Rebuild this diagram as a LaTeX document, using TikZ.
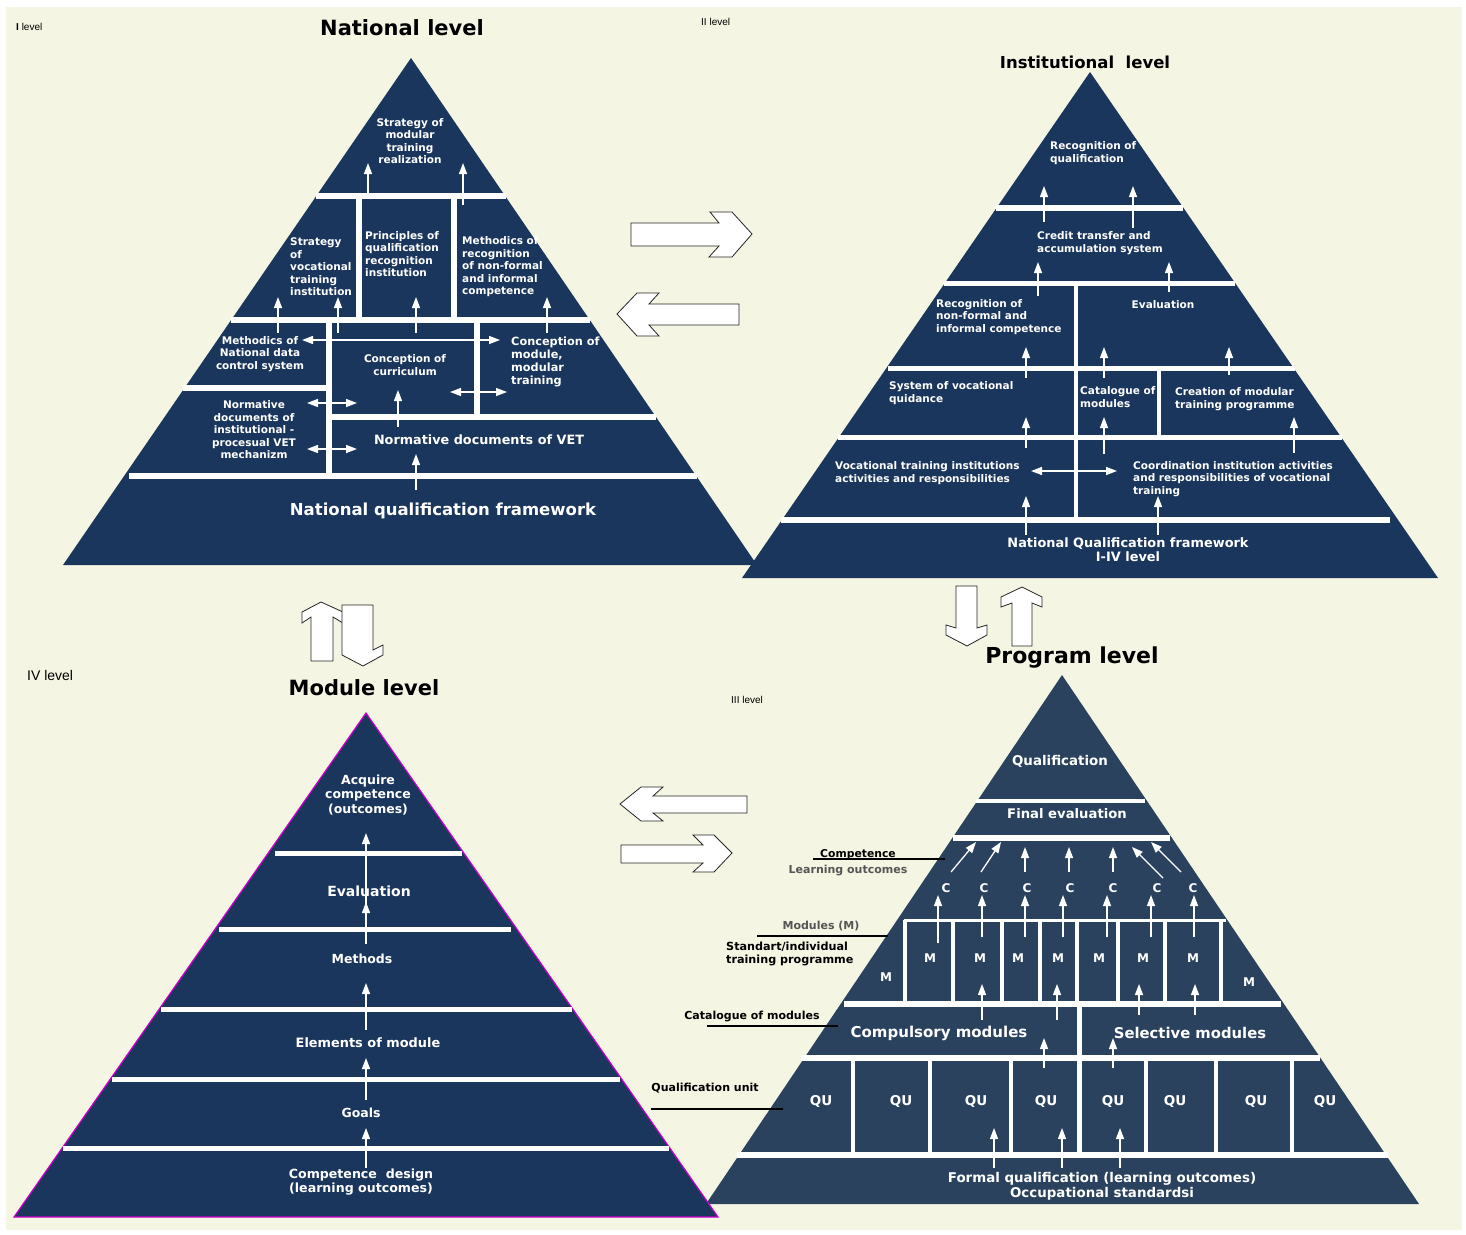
\documentclass[tikz,border=0pt]{standalone}
\usepackage{fontspec}
\setmainfont{DejaVu Sans}
\newfontfamily\lvl{Liberation Sans}
\usetikzlibrary{arrows.meta}
\definecolor{bgc}{HTML}{F5F5E4}
\definecolor{navy}{HTML}{1B365D}
\definecolor{progc}{HTML}{2B425F}
\definecolor{magc}{HTML}{CC00CC}
\definecolor{greyt}{HTML}{555555}
\newcommand\fz[2]{\fontsize{#1}{#2}\selectfont\bfseries}
\newcommand\wbar[4]{\fill[white] (#1,{#3-#4/2}) rectangle (#2,{#3+#4/2});}
\newcommand\wvbar[4]{\fill[white] ({#1-#4/2},#2) rectangle ({#1+#4/2},#3);}
\tikzset{
 wa/.style={white, line width=1.3pt, -{Triangle[width=8pt,length=11pt]}},
 wd/.style={white, line width=1.3pt, {Triangle[width=8pt,length=11pt]}-{Triangle[width=8pt,length=11pt]}},
 tc/.style={text=white, inner sep=0pt, align=center},
 tw/.style={text=white, inner sep=0pt, align=left, anchor=west},
 blk/.style={fill=white, draw=black!85, line width=0.8pt, line join=miter},
 lab/.style={inner sep=0pt, text=black},
 ttl/.style={inner sep=0pt, text=black, font=\fz{21}{24}},
 lvll/.style={inner sep=0pt, text=black, anchor=west},
 ldr/.style={black, line width=1.2pt},
}
\begin{document}
\begin{tikzpicture}[x=1pt,y=-1pt]
\fill[white] (0,0) rectangle (1466,1234);
\fill[bgc] (6,7) rectangle (1462,1230);
\useasboundingbox (0,0) rectangle (1466,1234);

% ---------------- National level ----------------
\fill[navy] (411,58) -- (757,565) -- (63,565) -- cycle;
\wbar{316}{506}{196}{6}
\wvbar{359}{196}{320}{6}
\wvbar{454}{196}{320}{6}
\wbar{231}{590}{320}{6}
\wvbar{329}{320}{476}{6}
\wvbar{477}{320}{417}{6}
\wbar{183}{329}{388}{6}
\wbar{329}{656}{417}{6}
\wbar{129}{697}{476}{6}

\draw[wa] (368,196) -- (368,163);
\draw[wa] (463,205) -- (463,163);
\draw[wa] (278,333) -- (278,297);
\draw[wa] (338,333) -- (338,297);
\draw[wa] (416,333) -- (416,297);
\draw[wa] (547,333) -- (547,297);
\draw[wd] (302,340) -- (500,340);
\draw[wd] (450,392) -- (507,392);
\draw[wd] (307,403) -- (357,403);
\draw[wd] (307,449) -- (357,449);
\draw[wa] (398,427) -- (398,390);
\draw[wa] (416,490) -- (416,454);

\node[tc, font=\fz{10.5}{12.6}] (n1) at (410,141) {Strategy of\\modular\\training\\realization};
\node[tw, font=\fz{10.5}{12.5}] (n2) at (290,267) {Strategy\\of\\vocational\\training\\institution};
\node[tw, font=\fz{10.5}{12.5}] (n3) at (365,254) {Principles of\\qualification\\recognition\\institution};
\node[tw, font=\fz{10.5}{12.5}] (n4) at (462,267) {Methodics of\\recognition\\of non-formal\\and informal\\competence};
\node[tc, font=\fz{10.5}{12.5}] (n5) at (260,354) {Methodics of\\National data\\control system};
\node[tc, font=\fz{10.5}{12.5}] (n6) at (405,365) {Conception of\\curriculum};
\node[tw, font=\fz{11.3}{13}] (n7) at (511,362) {Conception of\\module,\\modular\\training};
\node[tc, font=\fz{10.5}{12.5}] (n8) at (254,430) {Normative\\documents of\\institutional -\\procesual VET\\mechanizm};
\node[tc, font=\fz{12.8}{14}] (n9) at (479,440) {Normative documents of VET};
\node[tc, font=\fz{16.5}{18}] (n10) at (443,511) {National qualification framework};

% ---------------- Institutional level ----------------
\fill[navy] (1090,72) -- (1438,578) -- (742,578) -- cycle;
\wbar{996}{1183}{208}{6}
\wbar{944}{1235}{283}{5}
\wvbar{1076}{283}{520}{4}
\wbar{888}{1295}{368}{5}
\wvbar{1159}{368}{437}{4}
\wbar{838}{1342}{437}{5}
\wbar{781}{1390}{520}{6}

\draw[wa] (1044,222) -- (1044,186);
\draw[wa] (1133,228) -- (1133,186);
\draw[wa] (1038,296) -- (1038,262);
\draw[wa] (1169,292) -- (1169,262);
\draw[wa] (1026,378) -- (1026,347);
\draw[wa] (1104,378) -- (1104,347);
\draw[wa] (1229,375) -- (1229,347);
\draw[wa] (1026,448) -- (1026,417);
\draw[wa] (1104,454) -- (1104,417);
\draw[wa] (1294,453) -- (1294,417);
\draw[wa] (1026,535) -- (1026,496);
\draw[wa] (1158,535) -- (1158,496);
\draw[wd] (1031,471) -- (1117,471);

\node[tw, font=\fz{10.5}{12.3}] (i1) at (1050,153) {Recognition of\\qualification};
\node[tw, font=\fz{10.5}{12.8}] (i2) at (1037,243) {Credit transfer and\\accumulation system};
\node[tw, font=\fz{10.5}{12.5}] (i3) at (936,317) {Recognition of\\non-formal and\\informal competence};
\node[tc, font=\fz{10.5}{12.5}] (i4) at (1163,305) {Evaluation};
\node[tw, font=\fz{10.5}{12.8}] (i5) at (889,393) {System of vocational\\quidance};
\node[tw, font=\fz{10.5}{12.3}] (i6) at (1080,397) {Catalogue of\\modules};
\node[tw, font=\fz{10.5}{12.8}] (i7) at (1175,399) {Creation of modular\\training programme};
\node[tw, font=\fz{10.5}{12.8}] (i8) at (835,473) {Vocational training institutions\\activities and responsibilities};
\node[tw, font=\fz{10.5}{12.5}] (i9) at (1133,479) {Coordination institution activities\\and responsibilities of vocational\\training};
\node[tc, font=\fz{12.9}{14}] (i10) at (1128,550) {National Qualification framework\\I-IV level};

% ---------------- block arrows ----------------
\draw[blk] (631,223) -- (719,223) -- (710,212) -- (732,212) -- (752,234) -- (732,257) -- (709,257) -- (719,246) -- (631,246) -- cycle;
\draw[blk] (739,304) -- (649,304) -- (659,293) -- (637,293) -- (617,314) -- (637,336) -- (659,336) -- (649,325) -- (739,325) -- cycle;
\draw[blk] (747,796) -- (653,796) -- (663,787) -- (641,787) -- (620,804) -- (641,821) -- (663,821) -- (653,813) -- (747,813) -- cycle;
\draw[blk] (621,845) -- (703,845) -- (693,835) -- (714,835) -- (732,853) -- (714,872) -- (693,872) -- (703,863) -- (621,863) -- cycle;
\draw[blk] (321,602) -- (343,612) -- (343,623) -- (333,617) -- (333,661) -- (311,661) -- (311,617) -- (302,623) -- (302,612) -- cycle;
\draw[blk] (342,605) -- (373,605) -- (373,650) -- (383,645) -- (383,655) -- (363,666) -- (342,655) -- cycle;
\draw[blk] (956,586) -- (977,586) -- (977,628) -- (987,625) -- (987,635) -- (967,646) -- (946,635) -- (946,625) -- (956,628) -- cycle;
\draw[blk] (1022,587) -- (1042,597) -- (1042,607) -- (1032,603) -- (1032,646) -- (1012,646) -- (1012,603) -- (1001,607) -- (1001,597) -- cycle;

% ---------------- Program level ----------------
\fill[progc] (1062,675) -- (1419,1204) -- (706,1204) -- cycle;
\wbar{975}{1145}{801}{4}
\wbar{953}{1170}{838}{6}
\wbar{904}{1226}{920}{3}
\foreach \xx in {905,953,1002,1040,1077,1118,1165,1221} {\wvbar{\xx}{920}{1004}{4}}
\wbar{844}{1281}{1004}{6}
\wvbar{1079}{1004}{1155}{5}
\wbar{801}{1320}{1058}{6}
\foreach \xx in {853,930,1011,1146,1216,1292} {\wvbar{\xx}{1058}{1155}{4}}
\wbar{737}{1388}{1155}{6}

\draw[wa] (951,872) -- (976,842);
\draw[wa] (981,872) -- (1001,842);
\draw[wa] (1025,872) -- (1025,847);
\draw[wa] (1069,872) -- (1069,847);
\draw[wa] (1113,872) -- (1113,847);
\draw[wa] (1163,878) -- (1132,847);
\draw[wa] (1181,872) -- (1151,842);
\draw[wa] (938,943) -- (938,895);
\foreach \xx in {982,1025,1063,1107,1151,1194} {\draw[wa] (\xx,937) -- (\xx,895);}
\draw[wa] (982,1020) -- (982,984);
\draw[wa] (1057,1020) -- (1057,984);
\draw[wa] (1139,1015) -- (1139,984);
\draw[wa] (1195,1015) -- (1195,984);
\draw[wa] (1044,1068) -- (1044,1038);
\draw[wa] (1113,1068) -- (1113,1038);
\draw[wa] (994,1168) -- (994,1128);
\draw[wa] (1062,1168) -- (1062,1128);
\draw[wa] (1120,1168) -- (1120,1128);

\node[tc, font=\fz{13.4}{15}] (p1) at (1060,761) {Qualification};
\node[tc, font=\fz{13.2}{15}] (p2) at (1067,814) {Final evaluation};
\foreach \xx [count=\k] in {946,984,1027,1070,1113,1157,1193} {\node[tc, font=\fz{12}{14}] (pc\k) at (\xx,888) {C};}
\foreach \xx [count=\k] in {930,980,1018,1058,1099,1143,1193} {\node[tc, font=\fz{12}{14}] (pm\k) at (\xx,958) {M};}
\node[tc, font=\fz{12}{14}] (pm8) at (886,977) {M};
\node[tc, font=\fz{12}{14}] (pm9) at (1249,982) {M};
\node[tc, font=\fz{15}{17}] (p3) at (939,1033) {Compulsory modules};
\node[tc, font=\fz{14.8}{17}] (p4) at (1190,1033) {Selective modules};
\foreach \xx [count=\k] in {821,901,976,1046,1113,1175,1256,1325} {\node[tc, font=\fz{13.5}{16}] (pq\k) at (\xx,1101) {QU};}
\node[tc, font=\fz{13.4}{15}] (p5) at (1102,1186) {Formal qualification (learning outcomes)\\Occupational standardsi};

% leader labels
\coordinate (c1a) at (813,859); \coordinate (c1b) at (945,859);
\coordinate (c2a) at (757,936); \coordinate (c2b) at (888,936);
\coordinate (c3a) at (707,1026); \coordinate (c3b) at (838,1026);
\coordinate (c4a) at (651,1109); \coordinate (c4b) at (783,1109);
\draw[ldr] (c1a) -- (c1b);
\draw[ldr] (c2a) -- (c2b);
\draw[ldr] (c3a) -- (c3b);
\draw[ldr] (c4a) -- (c4b);
\node[lab, font=\fz{10.8}{12}] (l1) at (858,855) {Competence};
\node[lab, font=\fz{11}{12}, text=greyt] (l2) at (848,870) {Learning outcomes};
\node[lab, font=\fz{11}{12}, text=greyt] (l3) at (821,926) {Modules (M)};
\node[lab, font=\fz{11.2}{13}, align=left, anchor=west] (l4) at (726,954) {Standart/individual\\training programme};
\node[lab, font=\fz{11}{12}] (l5) at (752,1016) {Catalogue of modules};
\node[lab, font=\fz{11}{12}] (l6) at (705,1088) {Qualification unit};

% ---------------- Module level ----------------
\filldraw[fill=navy, draw=magc, line width=1.2pt] (366,713) -- (718,1217) -- (14,1217) -- cycle;
\wbar{275}{462}{853}{5}
\wbar{219}{511}{929}{5}
\wbar{161}{572}{1009}{5}
\wbar{112}{620}{1079}{5}
\wbar{63}{669}{1148}{5}
\draw[wa] (366,905) -- (366,833);
\draw[wa] (366,944) -- (366,902);
\draw[wa] (366,1030) -- (366,983);
\draw[wa] (366,1100) -- (366,1058);
\draw[wa] (366,1168) -- (366,1128);
\node[tc, font=\fz{12.5}{14.5}] (m1) at (368,795) {Acquire\\competence\\(outcomes)};
\node[tc, font=\fz{14}{16}] (m2) at (369,891) {Evaluation};
\node[tc, font=\fz{12.5}{15}] (m3) at (362,959) {Methods};
\node[tc, font=\fz{12.9}{15}] (m4) at (368,1043) {Elements of module};
\node[tc, font=\fz{12.5}{15}] (m5) at (361,1113) {Goals};
\node[tc, font=\fz{12.6}{14}] (m6) at (361,1182) {Competence\ \ design\\(learning outcomes)};

% ---------------- titles ----------------
\node[ttl] (t1) at (402,28) {National level};
\node[ttl, font=\fz{16.5}{19}] (t2) at (1085,62) {Institutional\ \ level};
\node[ttl, font=\fz{22}{25}] (t3) at (1072,658) {Program level};
\node[ttl] (t4) at (364,688) {Module level};
\node[lvll, font=\lvl\fontsize{10}{12}\selectfont] (v1) at (16,27) {\textbf{I} level};
\node[lvll, font=\lvl\fontsize{10}{12}\selectfont] (v2) at (701,22) {II level};
\node[lvll, font=\lvl\fontsize{10}{12}\selectfont] (v3) at (731,700) {III level};
\node[lvll, font=\lvl\fontsize{14}{16}\selectfont] (v4) at (27,675) {IV level};
\end{tikzpicture}
\end{document}
